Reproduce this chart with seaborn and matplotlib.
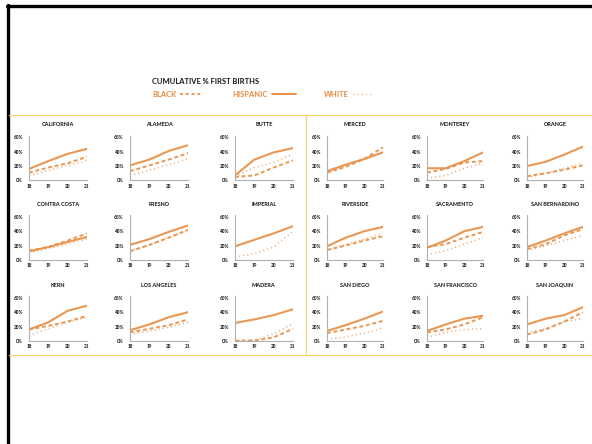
import matplotlib
matplotlib.use("Agg")
import matplotlib.pyplot as plt
from matplotlib.lines import Line2D
import numpy as np
import pandas as pd
import seaborn as sns

sns.set_style("white")
plt.rcParams["font.family"] = ["Lato", "DejaVu Sans"]

# Cumulative share of first births by age, per county and group
ages = [18, 19, 20, 21]
counties = [
    "CALIFORNIA", "ALAMEDA", "BUTTE", "MERCED", "MONTEREY", "ORANGE",
    "CONTRA COSTA", "FRESNO", "IMPERIAL", "RIVERSIDE", "SACRAMENTO", "SAN BERNARDINO",
    "KERN", "LOS ANGELES", "MADERA", "SAN DIEGO", "SAN FRANCISCO", "SAN JOAQUIN",
]
hispanic = [
    [16, 27, 37, 44], [21, 29, 41, 49], [7, 29, 39, 45],
    [13, 22, 30, 39], [17, 17, 27, 39], [20, 26, 36, 47],
    [12, 18, 25, 32], [21, 29, 39, 48], [19, 28, 37, 47],
    [19, 31, 40, 46], [17, 27, 40, 46], [18, 27, 37, 46],
    [16, 26, 42, 49], [15, 23, 33, 40], [25, 30, 36, 44],
    [14, 22, 31, 41], [14, 23, 31, 35], [23, 31, 36, 47],
]
black = [
    [11, 18, 24, 33], [13, 21, 29, 38], [5, 7, 18, 28],
    [11, 19, 30, 46], [11, 16, 25, 27], [6, 10, 15, 21],
    [13, 18, 27, 37], [12, 21, 31, 42], [None, None, None, None],
    [14, 20, 27, 33], [18, 22, 31, 39], [15, 22, 34, 43],
    [16, 21, 27, 35], [12, 17, 22, 30], [0.5, 0.5, 5, 17],
    [11, 16, 21, 28], [12, 16, 23, 33], [9, 16, 27, 40],
]
white = [
    [7, 14, 21, 28], [7, 14, 22, 30], [5, 18, 25, 37],
    [10, 21, 29, 40], [3, 7, 17, 24], [4, 10, 17, 24],
    [10, 16, 22, 29], [13, 21, 31, 41], [4, 9, 18, 40],
    [13, 22, 29, 37], [7, 13, 22, 31], [13, 20, 27, 34],
    [8, 17, 26, 33], [9, 14, 19, 26], [0.5, 1, 10, 24],
    [2.5, 5.5, 11, 18], [5, 12, 16, 17], [12, 17, 27, 31],
]
groups = ["BLACK", "HISPANIC", "WHITE"]
ytick_labels = ["0%", "20%", "40%", "60%"]

ORANGE = "#E8924A"
YELLOW = "#F9D473"
DARK = "#262626"

rows = []
for i, name in enumerate(counties):
    for g, series in zip(groups, (black, hispanic, white)):
        for a, v in zip(ages, series[i]):
            rows.append({"county": name, "race": g, "age": a,
                         "pct": np.nan if v is None else v / 100})
df = pd.DataFrame(rows)

W, H = 592, 444
fig = plt.figure(figsize=(W / 100, H / 100), dpi=100)

col_left = [29, 130, 235, 327, 427, 527]
col_width = [58, 58, 58, 56, 56, 56]
row_bottom = [180.5, 260.0, 341.0]
ax_h = 45.0

dash_map = {"BLACK": (2.0, 1.4), "HISPANIC": "", "WHITE": (0.7, 1.9)}
width_map = {"BLACK": 1.4, "HISPANIC": 1.5, "WHITE": 1.15}
alpha_map = {"BLACK": 0.95, "HISPANIC": 0.95, "WHITE": 0.75}

for i, name in enumerate(counties):
    r, c = divmod(i, 6)
    x0 = col_left[c]
    ax = fig.add_axes([x0 / W, 1 - row_bottom[r] / H, col_width[c] / W, ax_h / H])
    sub = df[df["county"] == name]
    for g in groups:
        part = sub[sub["race"] == g].dropna()
        if part.empty:
            continue
        sns.lineplot(data=part, x="age", y="pct", ax=ax, color=ORANGE,
                     lw=width_map[g], legend=False, alpha=alpha_map[g])
        if g != "HISPANIC":
            ax.lines[-1].set_dashes(dash_map[g])
    ax.set_xlim(18, 21)
    ax.set_ylim(0, 0.625)
    ax.set_xticks(ages)
    ax.set_xticklabels([str(a) for a in ages], fontsize=3.4, fontweight="black", color=DARK)
    ax.set_yticks([0, 0.2, 0.4, 0.6])
    ax.set_yticklabels(ytick_labels, fontsize=3.4, fontweight="black", color=DARK)
    ax.tick_params(axis="both", length=0)
    ax.tick_params(axis="y", pad=4.5)
    ax.tick_params(axis="x", pad=2.2)
    ax.set_xlabel("")
    ax.set_ylabel("")
    for s in ("top", "right"):
        ax.spines[s].set_visible(False)
    for s in ("left", "bottom"):
        ax.spines[s].set_color("#b0b0b0")
        ax.spines[s].set_linewidth(0.8)
    ax.patch.set_alpha(0)
    ax.text(0.5, 1.24, name, transform=ax.transAxes, ha="center", va="center",
            fontsize=4.0, fontweight="black", color=DARK)


def fx(px):
    return px / W


def fy(py):
    return 1 - py / H


# outer frame (top and left)
fig.add_artist(Line2D([fx(7), fx(592)], [fy(6.5), fy(6.5)], color="black", lw=2.4))
fig.add_artist(Line2D([fx(8), fx(8)], [fy(5.5), fy(444)], color="black", lw=2.4))

# panel rules
fig.add_artist(Line2D([fx(9), fx(592)], [fy(115.5), fy(115.5)], color=YELLOW, lw=0.9))
fig.add_artist(Line2D([fx(9), fx(592)], [fy(354.5), fy(354.5)], color=YELLOW, lw=0.9))
fig.add_artist(Line2D([fx(306), fx(306)], [fy(115.5), fy(354.5)], color=YELLOW, lw=0.9))

# heading and key
fig.text(fx(152), fy(82), "CUMULATIVE % FIRST BIRTHS", fontsize=5.4, fontweight="black",
         color=DARK, ha="left", va="center")
key_y = fy(94)
fig.text(fx(152), key_y, "BLACK", fontsize=5.4, fontweight="black", color=ORANGE,
         ha="left", va="center")
fig.add_artist(Line2D([fx(180), fx(202)], [key_y, key_y], color=ORANGE, lw=1.3,
                      dashes=(1.6, 1.6)))
fig.text(fx(232), key_y, "HISPANIC", fontsize=5.4, fontweight="black", color=ORANGE,
         ha="left", va="center")
fig.add_artist(Line2D([fx(272), fx(296)], [key_y, key_y], color=ORANGE, lw=1.4))
fig.text(fx(324), key_y, "WHITE", fontsize=5.4, fontweight="black", color=ORANGE,
         ha="left", va="center")
fig.add_artist(Line2D([fx(353), fx(373)], [key_y, key_y], color=ORANGE, lw=1.0,
                      dashes=(0.8, 2.2), alpha=0.8))

fig.savefig("out.png", dpi=100)
